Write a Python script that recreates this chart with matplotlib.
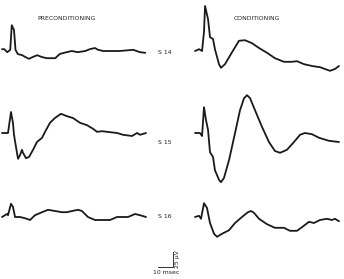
import numpy as np
import matplotlib
matplotlib.use('Agg')
import matplotlib.pyplot as plt

# evoked potentials, time in msec from trace start, amplitude in microvolts

s14_pre_t = [0, 1.5, 3.5, 5.5, 6.5, 8, 9, 10.5, 13.5, 15.5, 18, 20.5, 23.5, 26.5, 30,
             35.5, 38.5, 43, 46.5, 50.5, 55.5, 58.5, 62, 64, 67.5, 72, 78.5, 87.5, 92, 95.5]
s14_pre_v = [3, 3, -2, 2, 43, 35, 2, -5, -7, -10, -13, -10, -7, -10, -12,
             -12, -5, -2, 0, -2, 0, 3, 5, 2, 0, 0, 0, 2, -2, -3]

s14_con_t = [0, 2.7, 4.7, 6, 6.7, 8.7, 10, 12, 13.3, 16, 17.3, 20, 24.7, 29.3, 33.3, 38,
             42.7, 48, 53.3, 59.3, 64.7, 68, 72.7, 78, 83.3, 90, 93.3, 96]
s14_con_v = [0, 3, 0, 32, 75, 53, 23, 20, 3, -22, -28, -22, -2, 17, 18, 13,
             5, -3, -12, -18, -18, -17, -22, -25, -27, -33, -30, -25]

s15_pre_t = [0, 4, 6, 7.3, 8, 9.3, 10.7, 12, 13.3, 14, 16, 18, 20.7, 23.3, 26.7, 28.7, 32,
             35.3, 39.3, 43.3, 47.3, 52, 56.7, 60.7, 63.3, 66.7, 70, 76.7, 80.7, 86.7, 90, 92, 96]
s15_pre_v = [0, 0, 35, 17, -3, -23, -43, -37, -28, -33, -42, -40, -28, -15, -8, 2, 17,
             25, 32, 28, 25, 17, 13, 7, 2, 3, 2, 0, -3, -5, 0, -3, 0]

s15_con_t = [0, 3.3, 4.7, 6, 7.3, 8.7, 10, 12, 13.3, 16, 17.3, 19.3, 22.7, 26.7, 30, 32.7,
             34.7, 36.7, 40, 44.7, 49.3, 53.3, 56.7, 61.3, 66, 70, 73.3, 78, 82.7, 89.3, 96]
s15_con_v = [0, 0, -5, 43, 22, 5, -32, -40, -62, -78, -82, -75, -45, 0, 38, 58,
             63, 58, 38, 10, -15, -30, -33, -28, -15, -3, 0, -2, -8, -13, -15]

s16_pre_t = [0, 3.3, 4, 6, 7.3, 8.7, 12, 15.3, 18.7, 22, 26.7, 30.7, 35.3, 40, 43.3, 46.7,
             50.7, 53.3, 57.3, 62, 66.7, 72, 76.7, 80.7, 84, 88.7, 92, 96]
s16_pre_v = [0, 5, 3, 22, 17, 0, 0, -2, -5, 3, 8, 12, 10, 8, 8, 10,
             12, 10, 0, -5, -5, -5, 0, 0, 0, 5, 3, 0]

s16_con_t = [0, 2.7, 4, 6, 8, 10, 12.7, 14.7, 18, 22.7, 26.7, 31.3, 35.3, 37.3, 39.3, 42.7,
             48, 53.3, 59.3, 63.3, 68, 71.3, 76, 79.3, 83.3, 88, 91.3, 93.3, 96]
s16_con_v = [0, 2, -3, 23, 15, -10, -28, -33, -28, -22, -10, 0, 8, 10, 7, -3,
             -12, -18, -18, -23, -23, -17, -8, -10, -5, -3, -5, -3, -7]

subjects = ['S 14', 'S 15', 'S 16']
column_titles = ['PRECONDITIONING', 'CONDITIONING']

# layout in pixels of the 344x279 figure
W, H = 344, 279
PX_PER_MS = 1.5
PX_PER_UV = 0.6
col_x0 = [2, 195]
row_base = [51, 133, 217]

fig = plt.figure(figsize=(W / 100, H / 100), dpi=100)
ax = fig.add_axes([0, 0, 1, 1])
ax.set_xlim(0, W / PX_PER_MS)
ax.set_ylim(-H / PX_PER_UV, 0)
ax.axis('off')


def draw_trace(t, v, col, row):
    x = np.array(t) + col_x0[col] / PX_PER_MS
    y = np.array(v) - row_base[row] / PX_PER_UV
    ax.plot(x, y, color='#1a1a1a', lw=1.3, solid_joinstyle='round',
            solid_capstyle='round')


traces = [[(s14_pre_t, s14_pre_v), (s14_con_t, s14_con_v)],
          [(s15_pre_t, s15_pre_v), (s15_con_t, s15_con_v)],
          [(s16_pre_t, s16_pre_v), (s16_con_t, s16_con_v)]]

for row, pair in enumerate(traces):
    for col, (t, v) in enumerate(pair):
        draw_trace(t, v, col, row)

# labels
txt = dict(color='#222222', fontsize=4.4, ha='center', va='center')
fig.text(67 / W, 1 - 18 / H, column_titles[0], **txt)
fig.text(257 / W, 1 - 19 / H, column_titles[1], **txt)
label_y = [52, 143, 217]
for s, y in zip(subjects, label_y):
    fig.text(165 / W, 1 - y / H, s, **txt)

# scale bar: 10 msec and 25 uV
bx = 173 / PX_PER_MS
by = -267 / PX_PER_UV
ax.plot([bx - 10, bx, bx], [by, by, by + 25], color='#333333', lw=0.7)
fig.text(166 / W, 1 - 273 / H, '10 msec', **txt)
fig.text(178 / W, 1 - 259 / H, '25 μV', rotation=90, **txt)

fig.savefig('out.png', dpi=100, facecolor='white')
